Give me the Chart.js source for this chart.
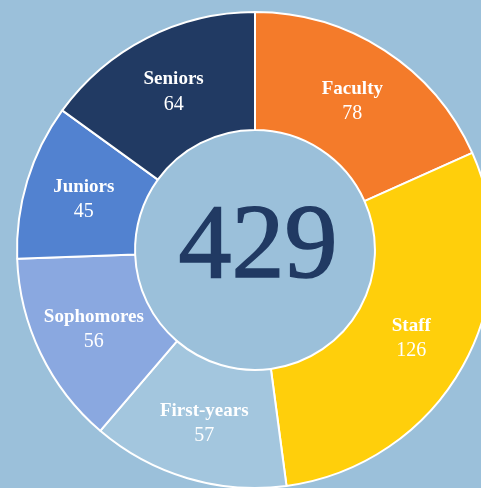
<!DOCTYPE html>
<html>
<head>
<meta charset="utf-8">
<script src="https://cdn.jsdelivr.net/npm/chart.js@4/dist/chart.umd.min.js"></script>
<style>
  html, body { margin: 0; padding: 0; background: #9bc0da; overflow: hidden; }
  #wrap { width: 481px; height: 488px; }
</style>
</head>
<body>
<div id="wrap"><canvas id="js-chart-campus" width="481" height="488"></canvas></div>
<script>
// Chart data
const categories = ['Faculty', 'Staff', 'First-years', 'Sophomores', 'Juniors', 'Seniors'];
const counts = [78, 126, 57, 56, 45, 64];
const centerLabel = '429';
const sliceColors = ['#f47b2a', '#ffcf0b', '#a3c6de', '#8aa8e0', '#5282d0', '#213a63'];

// Labels inside each slice + the big number in the hole
const sliceLabels = {
  id: 'sliceLabels',
  afterDatasetsDraw(chart) {
    const ctx = chart.ctx;
    const meta = chart.getDatasetMeta(0);
    ctx.save();
    ctx.fillStyle = '#ffffff';
    ctx.textAlign = 'center';
    ctx.textBaseline = 'middle';
    meta.data.forEach((arc, i) => {
      const pos = arc.tooltipPosition();
      ctx.font = 'bold 19px "Liberation Serif", serif';
      ctx.fillText(categories[i], pos.x, pos.y - 11);
      ctx.font = '20px "Liberation Serif", serif';
      ctx.fillText(String(counts[i]), pos.x, pos.y + 14);
    });

    // center total
    const arc0 = meta.data[0];
    ctx.fillStyle = '#213a63';
    ctx.font = '106px "Liberation Serif", serif';
    ctx.strokeStyle = '#213a63';
    ctx.lineWidth = 1.5;
    ctx.fillText(centerLabel, arc0.x + 3, arc0.y - 1);
    ctx.strokeText(centerLabel, arc0.x + 3, arc0.y - 1);
    ctx.restore();
  }
};

let chartCon = document.getElementById('js-chart-campus');

let chartData = {
  labels: categories,
  datasets: [
    {
      data: counts,
      backgroundColor: sliceColors,
      borderColor: '#ffffff',
      borderWidth: 2,
      hoverOffset: 0,
      clip: false
    }
  ]
};

let chartOptions = {
  responsive: false,
  animation: false,
  radius: 238,
  cutout: '50.4%',
  layout: {
    padding: {left: 29, top: 12, right: 0, bottom: 0}
  },
  plugins: {
    legend: {display: false},
    tooltip: {enabled: false}
  }
};

new Chart(chartCon, {type: 'doughnut', data: chartData, options: chartOptions, plugins: [sliceLabels]});
</script>
</body>
</html>
